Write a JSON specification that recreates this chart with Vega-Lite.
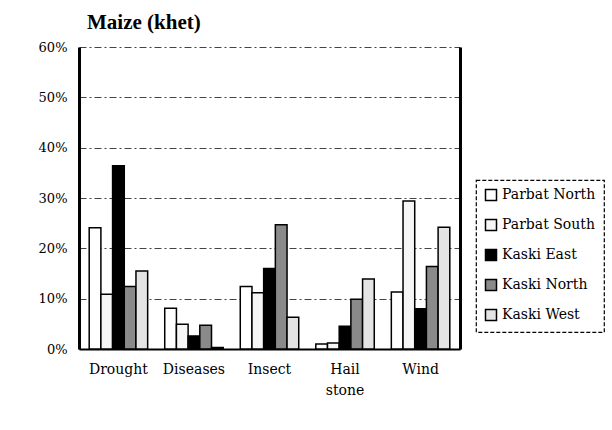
{
  "$schema": "https://vega.github.io/schema/vega-lite/v6.json",
  "width": 381,
  "height": 302,
  "autosize": {"type": "none"},
  "padding": {"left": 79, "top": 47, "right": 152, "bottom": 81},
  "background": "white",
  "title": {
    "text": "Maize (khet)",
    "anchor": "start",
    "frame": "group",
    "dx": 8,
    "offset": 8,
    "font": "Liberation Serif, Times New Roman, serif",
    "fontSize": 21,
    "fontWeight": "bold",
    "color": "black"
  },
  "config": {
    "font": "DejaVu Serif, serif",
    "view": {"stroke": null}
  },
  "data": {
    "values": [
      {"hazard": "Drought", "site": "Parbat North", "pct": 24.1},
      {"hazard": "Drought", "site": "Parbat South", "pct": 10.9},
      {"hazard": "Drought", "site": "Kaski East", "pct": 36.4},
      {"hazard": "Drought", "site": "Kaski North", "pct": 12.4},
      {"hazard": "Drought", "site": "Kaski West", "pct": 15.5},
      {"hazard": "Diseases", "site": "Parbat North", "pct": 8.1},
      {"hazard": "Diseases", "site": "Parbat South", "pct": 4.9},
      {"hazard": "Diseases", "site": "Kaski East", "pct": 2.6},
      {"hazard": "Diseases", "site": "Kaski North", "pct": 4.7},
      {"hazard": "Diseases", "site": "Kaski West", "pct": 0.3},
      {"hazard": "Insect", "site": "Parbat North", "pct": 12.4},
      {"hazard": "Insect", "site": "Parbat South", "pct": 11.2},
      {"hazard": "Insect", "site": "Kaski East", "pct": 16.0},
      {"hazard": "Insect", "site": "Kaski North", "pct": 24.7},
      {"hazard": "Insect", "site": "Kaski West", "pct": 6.3},
      {"hazard": "Hail stone", "site": "Parbat North", "pct": 1.0},
      {"hazard": "Hail stone", "site": "Parbat South", "pct": 1.2},
      {"hazard": "Hail stone", "site": "Kaski East", "pct": 4.5},
      {"hazard": "Hail stone", "site": "Kaski North", "pct": 9.9},
      {"hazard": "Hail stone", "site": "Kaski West", "pct": 13.9},
      {"hazard": "Wind", "site": "Parbat North", "pct": 11.3},
      {"hazard": "Wind", "site": "Parbat South", "pct": 29.4},
      {"hazard": "Wind", "site": "Kaski East", "pct": 8.0},
      {"hazard": "Wind", "site": "Kaski North", "pct": 16.4},
      {"hazard": "Wind", "site": "Kaski West", "pct": 24.2}
    ]
  },
  "encoding": {
    "x": {
      "field": "hazard",
      "type": "nominal",
      "sort": ["Drought", "Diseases", "Insect", "Hail stone", "Wind"],
      "scale": {"paddingInner": 0.226, "paddingOuter": 0.135},
      "axis": {
        "title": null,
        "labelAngle": 0,
        "ticks": false,
        "labelPadding": 13,
        "labelFont": "DejaVu Serif, serif",
        "labelFontSize": 14,
        "labelColor": "black",
        "labelLineHeight": 21,
        "labelExpr": "datum.label == 'Hail stone' ? ['Hail', 'stone'] : datum.label",
        "domainColor": "black",
        "domainWidth": 2
      }
    },
    "xOffset": {
      "field": "site",
      "type": "nominal",
      "sort": ["Parbat North", "Parbat South", "Kaski East", "Kaski North", "Kaski West"],
      "scale": {"paddingInner": 0, "paddingOuter": 0}
    },
    "y": {
      "field": "pct",
      "type": "quantitative",
      "scale": {"domain": [0, 60], "nice": false},
      "axis": {
        "title": null,
        "values": [0, 10, 20, 30, 40, 50, 60],
        "labelExpr": "datum.value + '%'",
        "ticks": false,
        "labelPadding": 12,
        "labelFont": "DejaVu Serif, serif",
        "labelFontSize": 13,
        "labelColor": "black",
        "domainColor": "black",
        "domainWidth": 3,
        "grid": true,
        "gridColor": "#444",
        "gridDash": [7, 3, 2, 3],
        "gridWidth": 1
      }
    }
  },
  "layer": [
    {
      "mark": {"type": "bar", "stroke": "black", "strokeWidth": 1.5},
      "encoding": {
        "fill": {
          "field": "site",
          "type": "nominal",
          "sort": ["Parbat North", "Parbat South", "Kaski East", "Kaski North", "Kaski West"],
          "scale": {
            "domain": ["Parbat North", "Parbat South", "Kaski East", "Kaski North", "Kaski West"],
            "range": ["#ffffff", "#f6f6f6", "#000000", "#8a8a8a", "#e4e4e4"]
          },
          "legend": {
            "title": null,
            "orient": "none",
            "legendX": 397,
            "legendY": 133,
            "padding": 8,
            "strokeColor": "black",
            "symbolType": "square",
            "symbolSize": 121,
            "symbolStrokeColor": "black",
            "symbolStrokeWidth": 1.5,
            "labelFont": "DejaVu Serif, serif",
            "labelFontSize": 14,
            "labelColor": "black",
            "labelOffset": 4,
            "rowPadding": 12,
            "encode": {
              "legend": {"update": {"strokeDash": {"value": [4, 2]}, "strokeWidth": {"value": 1.2}}}
            }
          }
        }
      }
    },
    {
      "mark": {"type": "bar", "opacity": 0},
      "encoding": {
        "y": {
          "field": "pct",
          "type": "quantitative",
          "axis": {
            "orient": "right",
            "title": null,
            "labels": false,
            "ticks": false,
            "grid": false,
            "domainColor": "black",
            "domainWidth": 3
          }
        }
      }
    }
  ],
  "resolve": {"axis": {"y": "independent"}}
}
